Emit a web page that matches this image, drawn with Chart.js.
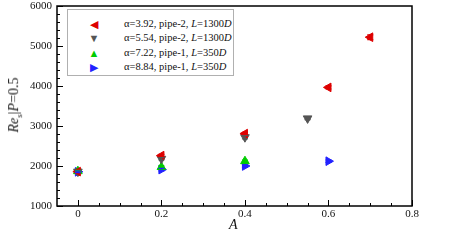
<!DOCTYPE html>
<html>
<head>
<meta charset="utf-8">
<script src="https://cdn.jsdelivr.net/npm/chart.js@4"></script>
<style>
  body { margin: 0; background: #fff; }
  #wrap { position: relative; width: 449px; height: 244px; font-family: "Liberation Serif", "Times New Roman", serif; }
  #legend {
    position: absolute; left: 67px; top: 9px; width: 165px; height: 65px;
    border: 1px solid #b0b0b0; background: #fff; font-size: 10.5px; color: #111;
  }
  .row { position: absolute; left: 0; height: 14px; line-height: 14px; white-space: nowrap; }
  .mk { position: absolute; left: 20px; width: 12px; text-align: center; font-size: 11px; }
  .tx { position: absolute; left: 56px; }
  #ytitle {
    position: absolute; left: 15px; top: 105px; transform: translate(-50%, -50%) rotate(-90deg);
    font-size: 14px; white-space: nowrap; color: #111;
  }
  #xtitle { position: absolute; left: 229px; top: 217px; font-size: 14px; font-style: italic; color: #111; }
</style>
</head>
<body>
<div id="wrap">
  <canvas id="c" width="449" height="244"></canvas>
  <div id="legend"></div>
  <div id="ytitle"><i>Re</i><sub style="font-size:9px"><i>s</i></sub>|<i>P</i>=0.5</div>
  <div id="xtitle">A</div>
</div>
<script>
/* ===== DATA ===== */
const xTicks = [0, 0.2, 0.4, 0.6, 0.8];
const yTicks = [1000, 2000, 3000, 4000, 5000, 6000];

const redX = [0, 0.2, 0.4, 0.6, 0.7];
const redY = [1860, 2260, 2810, 3965, 5220];
const redErr = [20, 30, 30, 40, 60];

const grayX = [0, 0.2, 0.4, 0.55];
const grayY = [1860, 2180, 2720, 3190];
const grayErr = [20, 30, 40, 30];

const greenX = [0, 0.2, 0.4];
const greenY = [1870, 1975, 2120];
const greenErr = [20, 30, 30];

const blueX = [0, 0.2, 0.4, 0.6];
const blueY = [1855, 1910, 2000, 2120];
const blueErr = [20, 30, 30, 30];

const labels = [
  "α=3.92, pipe-2, <i>L</i>=1300<i>D</i>",
  "α=5.54, pipe-2, <i>L</i>=1300<i>D</i>",
  "α=7.22, pipe-1, <i>L</i>=350<i>D</i>",
  "α=8.84, pipe-1, <i>L</i>=350<i>D</i>"
];
const colors = ["#dd0000", "#555555", "#00cc00", "#2222ff"];
const rotations = [270, 180, 0, 90];
const glyphs = ["◀", "▼", "▲", "▶"];

function pts(xs, ys, es) {
  return xs.map((x, i) => ({ x: x, y: ys[i], e: es[i] }));
}

const series = [
  pts(redX, redY, redErr),
  pts(grayX, grayY, grayErr),
  pts(greenX, greenY, greenErr),
  pts(blueX, blueY, blueErr)
];

/* ===== LEGEND ===== */
const legend = document.getElementById("legend");
labels.forEach((l, i) => {
  let row = document.createElement("div");
  row.className = "row";
  row.style.top = (7 + i * 14.3) + "px";
  row.innerHTML = `<span class="mk" style="color:${colors[i]}">${glyphs[i]}</span><span class="tx">${l}</span>`;
  legend.appendChild(row);
});

/* ===== PLUGINS ===== */
const frame = {
  id: "frame",
  afterDatasetsDraw(chart) {
    const ctx = chart.ctx;
    const a = chart.chartArea;
    const xs = chart.scales.x, ys = chart.scales.y;
    ctx.save();
    // error bars
    chart.data.datasets.forEach((ds, di) => {
      ctx.strokeStyle = colors[di];
      ctx.lineWidth = 1.2;
      ds.data.forEach(p => {
        const px = xs.getPixelForValue(p.x);
        const y1 = ys.getPixelForValue(p.y - p.e);
        const y2 = ys.getPixelForValue(p.y + p.e);
        ctx.beginPath();
        ctx.moveTo(px, y1); ctx.lineTo(px, y2);
        ctx.moveTo(px - 3, y1); ctx.lineTo(px + 3, y1);
        ctx.moveTo(px - 3, y2); ctx.lineTo(px + 3, y2);
        ctx.stroke();
      });
    });
    ctx.strokeStyle = "#000";
    ctx.lineWidth = 1;
    // minor + major ticks, pointing inward
    ctx.beginPath();
    for (let v = 0; v <= 0.8001; v += 0.05) {
      const px = Math.round(xs.getPixelForValue(v)) + 0.5;
      const major = Math.abs(v / 0.2 - Math.round(v / 0.2)) < 1e-6;
      ctx.moveTo(px, a.bottom);
      ctx.lineTo(px, a.bottom - (major ? 6 : 3));
    }
    for (let v = 1000; v <= 6000; v += 200) {
      const py = Math.round(ys.getPixelForValue(v)) + 0.5;
      const major = v % 1000 === 0;
      ctx.moveTo(a.left, py);
      ctx.lineTo(a.left + (major ? 6 : 3), py);
    }
    ctx.stroke();
    ctx.lineWidth = 1.5;
    ctx.strokeRect(a.left, a.top, a.right - a.left, a.bottom - a.top);
    ctx.restore();
  }
};

function noPad(s) {
  s.paddingTop = 0; s.paddingBottom = 0;
  s.paddingLeft = 0; s.paddingRight = 0;
}

const tickFont = { family: "'Liberation Serif', 'Times New Roman', serif", size: 11 };

/* ===== CHART ===== */
new Chart(document.getElementById("c"), {
  type: "scatter",
  data: {
    datasets: series.map((d, i) => ({
      data: d,
      backgroundColor: colors[i],
      borderColor: colors[i],
      pointStyle: "triangle",
      rotation: rotations[i],
      pointRadius: 5,
      borderWidth: 1
    }))
  },
  options: {
    responsive: false,
    animation: false,
    events: [],
    layout: { padding: { top: 4, right: 37, left: 0, bottom: 0 } },
    plugins: { legend: { display: false }, tooltip: { enabled: false } },
    scales: {
      x: {
        type: "linear",
        min: -0.05,
        max: 0.8,
        afterBuildTicks: s => { s.ticks = xTicks.map(v => ({ value: v })); },
        afterFit: s => { s.height = 38; noPad(s); },
        grid: { display: false, drawTicks: false },
        border: { display: false },
        ticks: {
          padding: 2,
          color: "#111",
          font: tickFont,
          callback: v => String(v)
        }
      },
      y: {
        min: 1000,
        max: 6000,
        afterBuildTicks: s => { s.ticks = yTicks.map(v => ({ value: v })); },
        afterFit: s => { s.width = 57; noPad(s); },
        grid: { display: false, drawTicks: false },
        border: { display: false },
        ticks: {
          padding: 5,
          color: "#111",
          font: tickFont,
          callback: v => String(v)
        }
      }
    }
  },
  plugins: [frame]
});
</script>
</body>
</html>
